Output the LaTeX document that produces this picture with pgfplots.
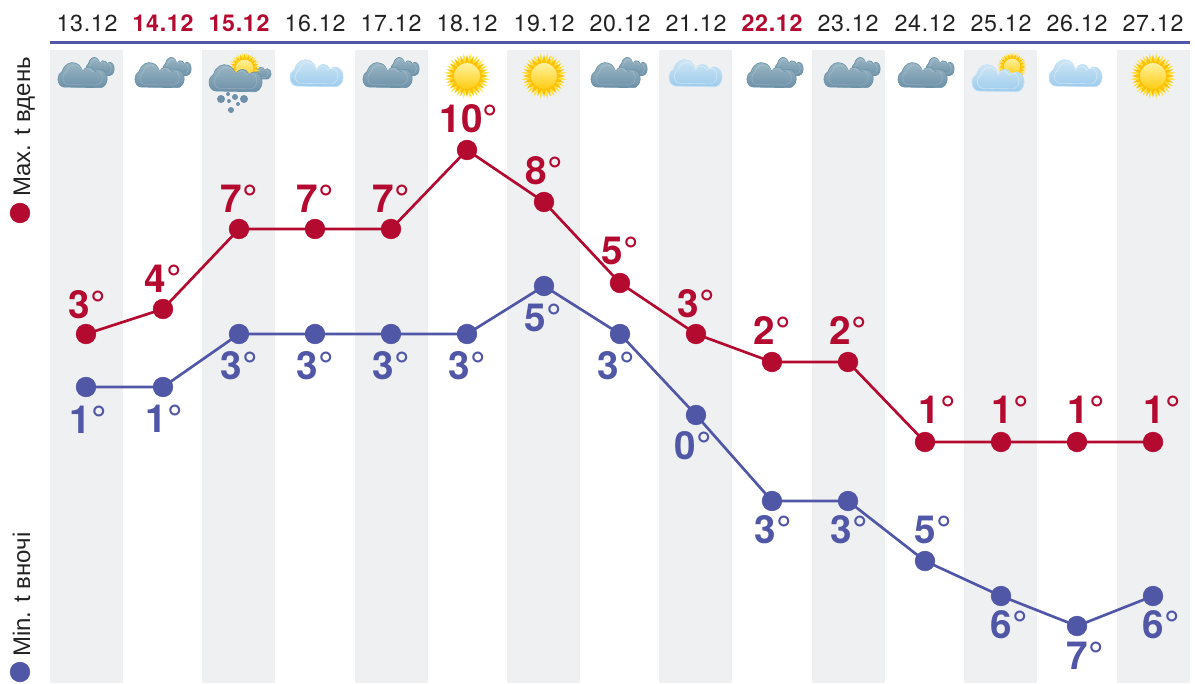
\documentclass[border=0pt]{standalone}
\usepackage{pgfplots}
\pgfplotsset{compat=1.18}
\usepackage{fontspec}
\setmainfont{TeX Gyre Heros}
\newfontfamily\datefont[LetterSpace=3.0]{TeX Gyre Heros}
\newfontfamily\sidefont{Liberation Sans}
\usetikzlibrary{shapes.geometric}
\definecolor{mred}{HTML}{B40A30}
\definecolor{mblue}{HTML}{4F57A6}
\definecolor{band}{HTML}{EFF0F2}
\definecolor{txt}{HTML}{222222}
\definecolor{DarkTop}{HTML}{9DB9C6}
\definecolor{DarkBot}{HTML}{6E90A8}
\definecolor{DarkEdge}{HTML}{6A93A8}
\definecolor{LightTop}{HTML}{D3E8F6}
\definecolor{LightBot}{HTML}{9CCBEC}
\definecolor{LightEdge}{HTML}{BFE0F5}
\definecolor{SunOut}{HTML}{FFC107}
\definecolor{SunRay}{HTML}{FFE23A}
\definecolor{SunIn}{HTML}{FFF3A0}
\definecolor{SunMid}{HTML}{FFCB10}
\newcommand{\cloudpath}{(-20,-11) arc[start angle=270,end angle=110,radius=7] arc[start angle=160,end angle=20,radius=12] arc[start angle=150,end angle=30,radius=8] arc[start angle=130,end angle=-90,radius=8] -- cycle}
\newcommand{\dcloud}[4]{\begin{scope}[shift={(#1,#2)},xscale=#3,yscale=#4]
  \path[top color=DarkTop,bottom color=DarkBot,draw=DarkEdge,line width=.5pt] \cloudpath;
  \begin{scope}[scale=.8]\path[draw=white,opacity=.22,line width=.4pt] \cloudpath;\end{scope}
\end{scope}}
\newcommand{\lcloud}[4]{\begin{scope}[shift={(#1,#2)},xscale=#3,yscale=#4]
  \path[top color=LightTop,bottom color=LightBot,draw=LightEdge,line width=.5pt] \cloudpath;
  \begin{scope}[scale=.8]\path[draw=white,opacity=.45,line width=.4pt] \cloudpath;\end{scope}
\end{scope}}
\newcommand{\sun}[3]{% x y radius(px)
  \node[star,star points=20,star point ratio=1.7,minimum size=#3*1.5pt,inner sep=0pt,fill=SunRay,rotate=9] at (#1,#2) {};
  \node[star,star points=20,star point ratio=1.6,minimum size=#3*1.4pt,inner sep=0pt,fill=SunOut] at (#1,#2) {};
  \node[circle,minimum size=#3*.87pt,inner sep=0pt,top color=SunIn,bottom color=SunMid,draw=SunOut,line width=.4pt] at (#1,#2) {};
}
\tikzset{
  pics/darkcloud/.style={code={\begin{scope}[x=.75pt,y=.75pt]
    \dcloud{14}{6}{.52}{.82}\dcloud{-3.5}{-2.5}{.91}{1.14}\end{scope}}},
  pics/lightcloud/.style={code={\begin{scope}[x=.75pt,y=.75pt]
    \lcloud{0}{0}{.98}{1.23}\end{scope}}},
  pics/sunny/.style={code={\begin{scope}[x=.75pt,y=.75pt]\sun{0}{0}{23}\end{scope}}},
  pics/sleet/.style={code={\begin{scope}[x=.75pt,y=.75pt]
    \dcloud{22}{6}{.5}{.65}\sun{9}{9}{16}\dcloud{0}{0}{.98}{1.23}
    \foreach \a/\b/\r in {-14.5/-21.5/3,-7.5/-16.5/1.5,-.5/-19.5/2.25,-6.5/-23.5/1.5,2.5/-26.5/1.5,8.5/-21.5/3,-4.5/-32.5/2.25}
      \path[fill=DarkBot] (\a,\b) circle[radius=\r pt];
    \end{scope}}},
  pics/suncloud/.style={code={\begin{scope}[x=.75pt,y=.75pt]
    \sun{14}{10.5}{15}\lcloud{0}{0}{.96}{1.23}\end{scope}}},
  datestyle/.style={anchor=base,inner sep=0pt,text=txt,font=\datefont\fontsize{17.4}{18}\selectfont},
  datebold/.style={anchor=base,inner sep=0pt,text=mred,font=\datefont\bfseries\fontsize{17.4}{18}\selectfont},
  maxlab/.style={anchor=base,inner sep=0pt,text=mred,font=\bfseries\fontsize{29}{29}\selectfont},
  minlab/.style={anchor=base,inner sep=0pt,text=mblue,font=\bfseries\fontsize{29}{29}\selectfont},
  sidelab/.style={rotate=90,anchor=base west,font=\sidefont\fontsize{18}{18}\selectfont,text=txt,inner sep=0pt},
}
\newcommand{\bandrect}[2]{\addplot[fill=band,draw=none,forget plot] coordinates {(#1,50) (#2,50) (#2,683) (#1,683)} -- cycle;}
\begin{document}
\begin{tikzpicture}
\useasboundingbox (0,0) rectangle (896.25pt,512.25pt);
\begin{axis}[
  at={(0,0)}, anchor=south west,
  scale only axis, width=896.25pt, height=512.25pt,
  xmin=0, xmax=1195, ymin=0, ymax=683, y dir=reverse,
  hide axis, clip=false,
]
\bandrect{50}{123}\bandrect{202}{275}\bandrect{355}{428}\bandrect{507}{580}
\bandrect{659}{732}\bandrect{812}{885}\bandrect{964}{1037}\bandrect{1117}{1190}
\addplot[mblue,line width=2pt,forget plot] coordinates {(50,42.5) (1190,42.5)};

\pic at (axis cs:86,72) {darkcloud};
\pic at (axis cs:163,72) {darkcloud};
\pic at (axis cs:235.5,77.5) {sleet};
\pic at (axis cs:316.5,72.5) {lightcloud};
\pic at (axis cs:391,72) {darkcloud};
\pic at (axis cs:467,76) {sunny};
\pic at (axis cs:544,76) {sunny};
\pic at (axis cs:619,72) {darkcloud};
\pic at (axis cs:695.5,72.5) {lightcloud};
\pic at (axis cs:775,72) {darkcloud};
\pic at (axis cs:852,72) {darkcloud};
\pic at (axis cs:926,72) {darkcloud};
\pic at (axis cs:998,77.5) {suncloud};
\pic at (axis cs:1075.5,72.5) {lightcloud};
\pic at (axis cs:1153,76) {sunny};

% Max by day
\addplot[mred,line width=2pt,mark=*,mark size=7.4pt,mark options={fill=mred,draw=mred,line width=.4pt}] coordinates {
(86,334) (163,309) (239,229) (315,229) (391,229) (467,150) (544,202) (620,283)
(696,334) (772,362) (848,362) (925,442) (1001,442) (1077,442) (1153,442)};
% Min by night
\addplot[mblue,line width=2pt,mark=*,mark size=7.4pt,mark options={fill=mblue,draw=mblue,line width=.4pt}] coordinates {
(86,387) (163,387) (239,334) (315,334) (391,334) (467,334) (544,286) (620,334)
(696,415) (772,501) (848,501) (925,561) (1001,596) (1077,626) (1153,596)};

% Legend dots
\addplot[only marks,mark=*,mark size=7.4pt,mark options={fill=mred,draw=mred,line width=.4pt},forget plot] coordinates {(20,213)};
\addplot[only marks,mark=*,mark size=7.4pt,mark options={fill=mblue,draw=mblue,line width=.4pt},forget plot] coordinates {(20,672)};

\node[sidelab] at (axis cs:30,197) {Max. t вдень};
\node[sidelab] at (axis cs:30,657) {Min. t вночі};

% Dates
\node[datestyle] at (axis cs:87,31) {13.12};
\node[datebold] at (axis cs:163,31) {14.12};
\node[datebold] at (axis cs:239,31) {15.12};
\node[datestyle] at (axis cs:315,31) {16.12};
\node[datestyle] at (axis cs:391,31) {17.12};
\node[datestyle] at (axis cs:467,31) {18.12};
\node[datestyle] at (axis cs:544,31) {19.12};
\node[datestyle] at (axis cs:620,31) {20.12};
\node[datestyle] at (axis cs:696,31) {21.12};
\node[datebold] at (axis cs:772,31) {22.12};
\node[datestyle] at (axis cs:848,31) {23.12};
\node[datestyle] at (axis cs:925,31) {24.12};
\node[datestyle] at (axis cs:1001,31) {25.12};
\node[datestyle] at (axis cs:1077,31) {26.12};
\node[datestyle] at (axis cs:1153,31) {27.12};

% Value labels, max
\node[maxlab] at (axis cs:87,318) {3°};
\node[maxlab] at (axis cs:163,292) {4°};
\node[maxlab] at (axis cs:239,212) {7°};
\node[maxlab] at (axis cs:315,212) {7°};
\node[maxlab] at (axis cs:391,212) {7°};
\node[maxlab] at (axis cs:469,132) {10°};
\node[maxlab] at (axis cs:544,184) {8°};
\node[maxlab] at (axis cs:620,264) {5°};
\node[maxlab] at (axis cs:696,317) {3°};
\node[maxlab] at (axis cs:772,344) {2°};
\node[maxlab] at (axis cs:848,344) {2°};
\node[maxlab] at (axis cs:937,423) {1°};
\node[maxlab] at (axis cs:1010,423) {1°};
\node[maxlab] at (axis cs:1086,423) {1°};
\node[maxlab] at (axis cs:1162,423) {1°};
% Value labels, min
\node[minlab] at (axis cs:88,433) {1°};
\node[minlab] at (axis cs:164,432) {1°};
\node[minlab] at (axis cs:239,379) {3°};
\node[minlab] at (axis cs:315,379) {3°};
\node[minlab] at (axis cs:391,379) {3°};
\node[minlab] at (axis cs:467,379) {3°};
\node[minlab] at (axis cs:543,331) {5°};
\node[minlab] at (axis cs:616,379) {3°};
\node[minlab] at (axis cs:693,459) {0°};
\node[minlab] at (axis cs:773,543) {3°};
\node[minlab] at (axis cs:849,543) {3°};
\node[minlab] at (axis cs:933,543) {5°};
\node[minlab] at (axis cs:1009,638) {6°};
\node[minlab] at (axis cs:1085,669) {7°};
\node[minlab] at (axis cs:1161,638) {6°};
\end{axis}
\end{tikzpicture}
\end{document}
